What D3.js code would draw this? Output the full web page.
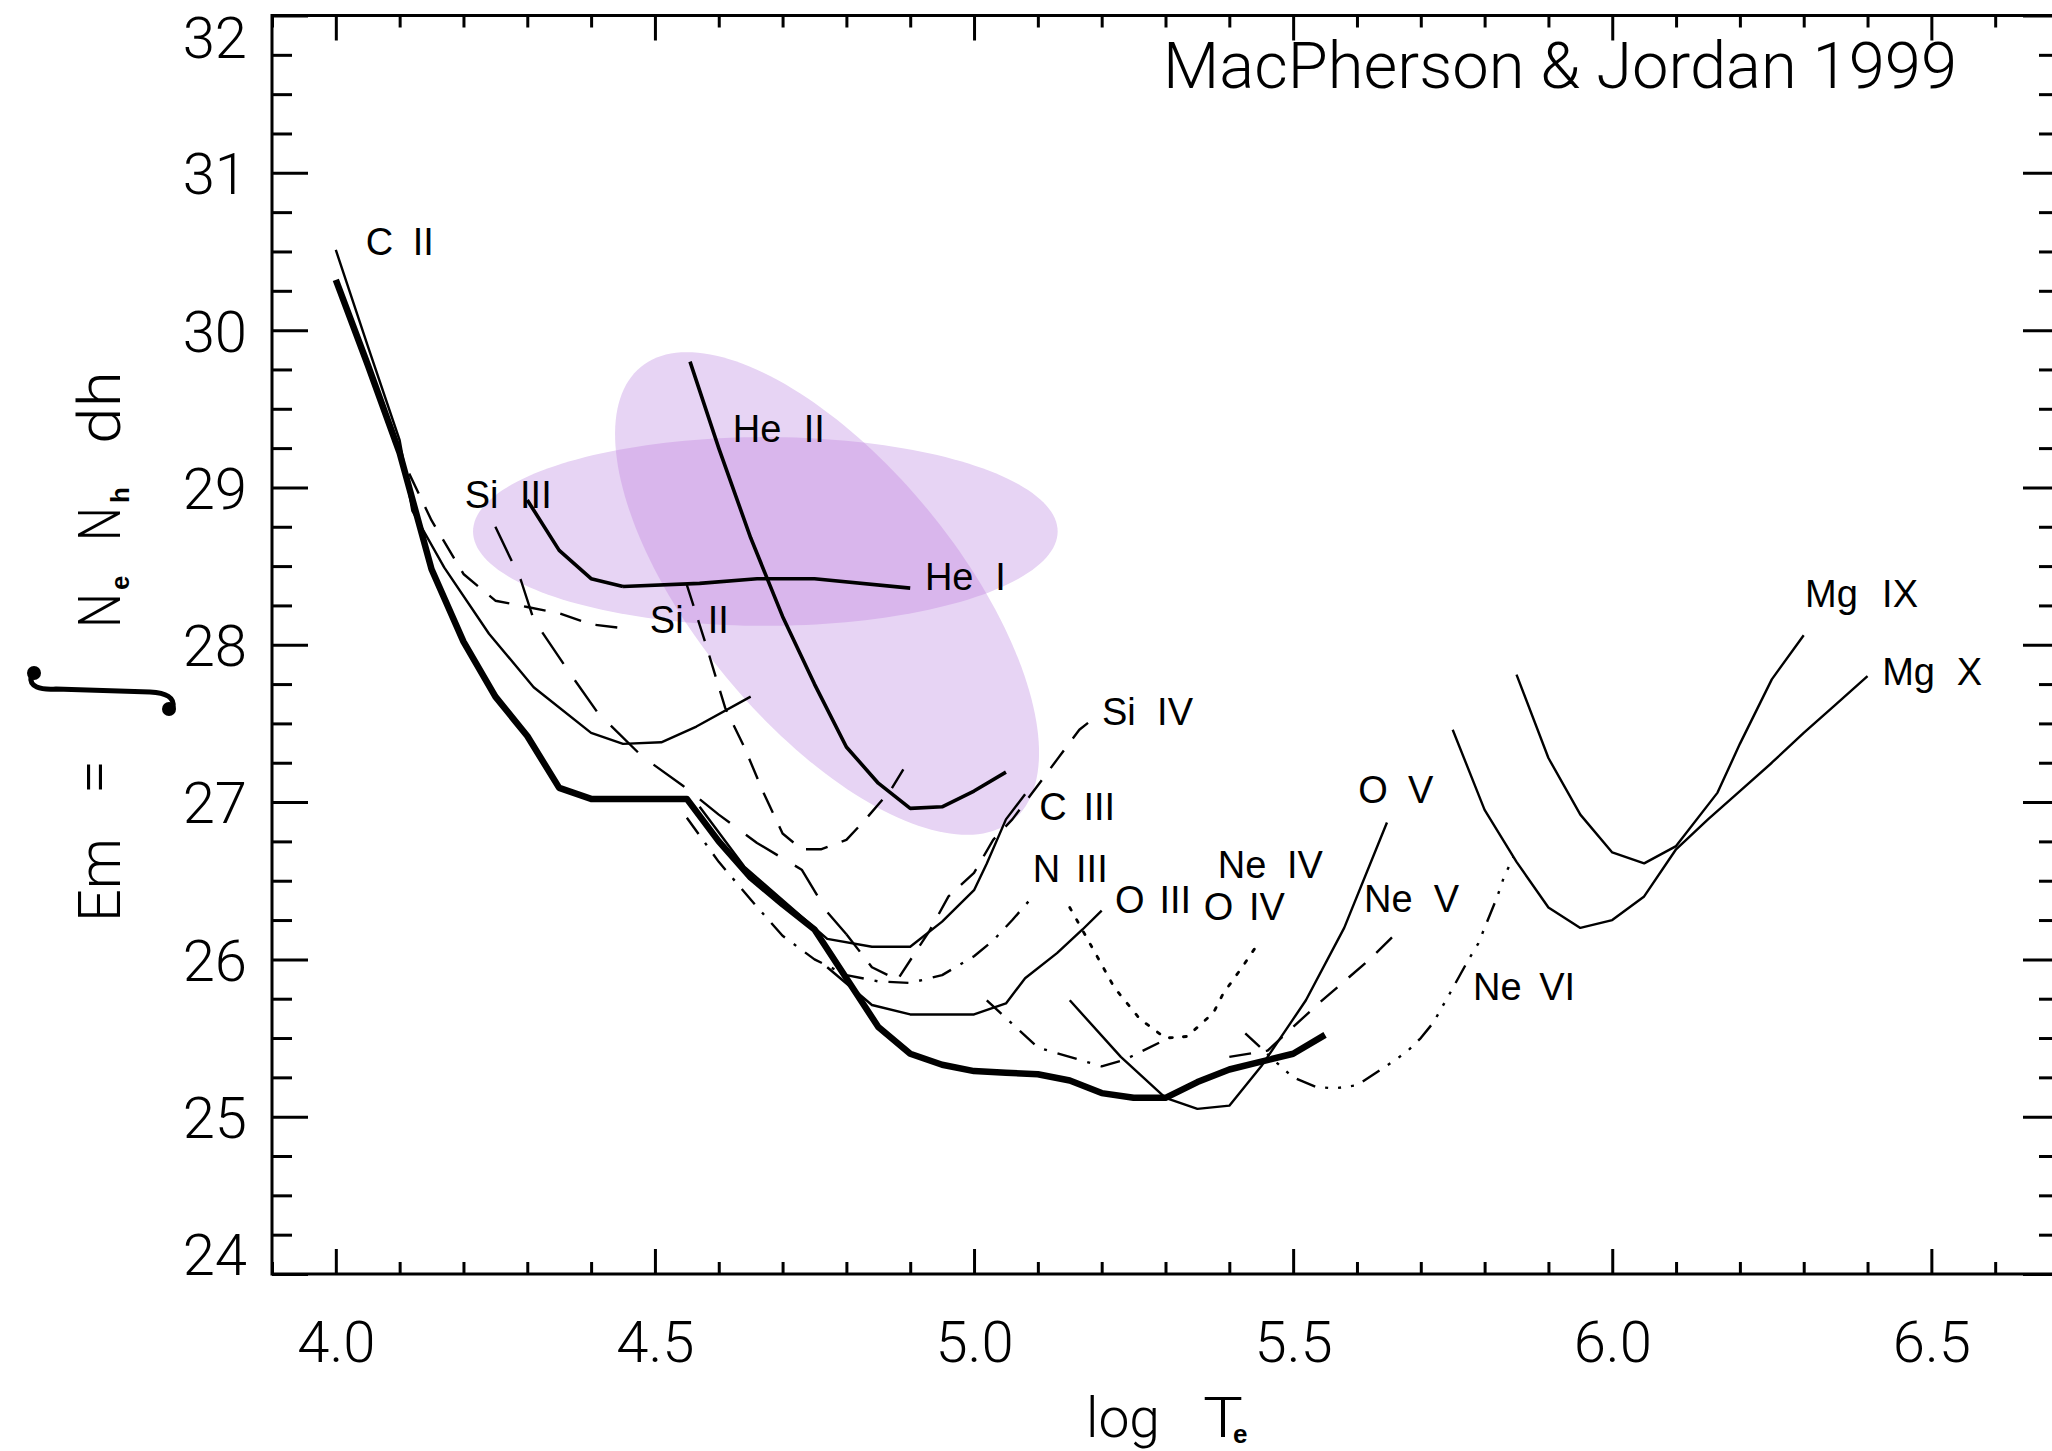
<!DOCTYPE html>
<html>
<head>
<meta charset="utf-8">
<script src="https://cdn.jsdelivr.net/npm/d3@7"></script>
<style>
  html, body { margin: 0; padding: 0; background: #ffffff; }
  svg { display: block; }
</style>
</head>
<body>
<svg id="chart" width="2052" height="1451"></svg>
<script>
// ---- axis set-up -------------------------------------------------------
const xDomain = [3.9, 6.7];
const yDomain = [24, 32];
const xMajorTicks = [4.0, 4.5, 5.0, 5.5, 6.0, 6.5];
const yMajorTicks = [24, 25, 26, 27, 28, 29, 30, 31, 32];

// ---- emission-measure loci (log Te, log Em) ----------------------------
const emTotal = [[4.00,30.32],[4.05,29.78],[4.10,29.22],[4.15,28.48],[4.20,28.02],[4.25,27.67],
  [4.30,27.42],[4.35,27.09],[4.40,27.02],[4.45,27.02],[4.50,27.02],[4.55,27.02],[4.60,26.75],
  [4.65,26.52],[4.70,26.35],[4.75,26.19],[4.80,25.88],[4.85,25.57],[4.90,25.40],[4.95,25.33],
  [5.00,25.29],[5.05,25.28],[5.10,25.27],[5.15,25.23],[5.20,25.15],[5.25,25.12],[5.30,25.12],
  [5.35,25.22],[5.40,25.30],[5.45,25.35],[5.50,25.40],[5.55,25.52]];
const cII = [[4.00,30.51],[4.05,29.90],[4.10,29.30],[4.12,28.85],[4.17,28.49],[4.24,28.07],
  [4.31,27.73],[4.40,27.44],[4.45,27.37],[4.51,27.38],[4.565,27.48],[4.65,27.67]];
const siII = [[4.09,29.30],[4.15,28.79],[4.20,28.45],[4.25,28.28],[4.30,28.24],[4.35,28.20],
  [4.40,28.13],[4.46,28.10]];
const siIII = [[4.30,28.92],[4.35,28.60],[4.40,28.42],[4.45,28.37]];
const heI = [[4.45,28.37],[4.57,28.39],[4.66,28.42],[4.75,28.42],[4.90,28.36]];
const heII = [[4.555,29.80],[4.60,29.25],[4.65,28.68],[4.70,28.18],[4.75,27.75],[4.80,27.35],
  [4.85,27.12],[4.90,26.96],[4.95,26.97],[5.00,27.07],[5.05,27.19]];
const siIVlow = [[4.25,28.75],[4.29,28.41],[4.31,28.16],[4.37,27.80],[4.41,27.57],[4.48,27.29],
  [4.545,27.10],[4.60,26.92],[4.66,26.74],[4.73,26.57],[4.77,26.30],[4.80,26.16]];
const siIIhigh = [[4.55,28.38],[4.58,28.00],[4.61,27.60],[4.64,27.35],[4.67,27.06],[4.70,26.80],
  [4.73,26.70],[4.76,26.70],[4.80,26.76],[4.83,26.89],[4.87,27.08],[4.90,27.28]];
const siIV = [[4.80,26.16],[4.84,25.95],[4.88,25.87],[4.93,26.18],[4.96,26.40],[5.00,26.55],
  [5.03,26.76],[5.06,26.89],[5.11,27.16],[5.13,27.27],[5.165,27.46],[5.19,27.54]];
const cIII = [[4.57,26.97],[4.64,26.59],[4.77,26.13],[4.84,26.08],[4.90,26.08],[4.95,26.24],
  [5.00,26.44],[5.02,26.61],[5.05,26.89],[5.08,27.05]];
const nIII = [[4.55,26.90],[4.60,26.62],[4.65,26.38],[4.70,26.15],[4.75,26.00],[4.80,25.90],
  [4.85,25.86],[4.90,25.85],[4.95,25.90],[5.00,26.02],[5.03,26.12],[5.06,26.25],[5.09,26.39]];
const oIII = [[4.77,25.95],[4.84,25.71],[4.90,25.65],[5.00,25.65],[5.05,25.72],[5.08,25.88],
  [5.13,26.04],[5.17,26.19],[5.20,26.31]];
const nIV = [[5.02,25.74],[5.10,25.44],[5.20,25.32],[5.235,25.36],[5.29,25.47]];
const oIV = [[5.15,26.33],[5.19,26.04],[5.22,25.82],[5.26,25.62],[5.30,25.50],[5.334,25.51],
  [5.375,25.66],[5.39,25.78],[5.42,25.95],[5.445,26.10]];
const oV = [[5.15,25.74],[5.23,25.38],[5.30,25.12],[5.35,25.05],[5.40,25.07],[5.45,25.32],
  [5.50,25.62],[5.52,25.74],[5.58,26.20],[5.647,26.87]];
const neV = [[5.40,25.38],[5.46,25.42],[5.50,25.57],[5.54,25.72],[5.58,25.86],[5.62,26.00],
  [5.66,26.16]];
const neVI = [[5.425,25.53],[5.475,25.34],[5.50,25.25],[5.535,25.19],[5.565,25.18],[5.60,25.20],
  [5.66,25.36],[5.68,25.42],[5.70,25.50],[5.72,25.60],[5.745,25.78],[5.775,26.00],[5.79,26.10],
  [5.80,26.20],[5.82,26.40],[5.83,26.52],[5.845,26.65]];
const mgIX = [[5.85,27.81],[5.90,27.28],[5.95,26.92],[6.00,26.68],[6.05,26.61],[6.10,26.72],
  [6.165,27.06],[6.20,27.37],[6.25,27.78],[6.30,28.06]];
const mgX = [[5.75,27.46],[5.80,26.95],[5.85,26.62],[5.90,26.33],[5.95,26.20],[6.00,26.25],
  [6.05,26.40],[6.10,26.70],[6.15,26.89],[6.20,27.07],[6.25,27.25],[6.30,27.44],[6.35,27.62],
  [6.40,27.80]];

// ion names written beside the loci: [element, stage, log Te, log Em]
const ionLabels = [
  ["C","II",4.047,30.478],["Si","III",4.202,28.869],["He","II",4.622,29.289],
  ["He","I",4.923,28.348],["Si","II",4.492,28.075],["Si","IV",5.2005,27.49],
  ["C","III",5.102,26.886],["N","III",5.092,26.49],["O","III",5.221,26.295],
  ["O","IV",5.36,26.25],["Ne","IV",5.382,26.518],["O","V",5.602,26.995],
  ["Ne","V",5.611,26.302],["Ne","VI",5.782,25.743],["Mg","IX",6.302,28.24],
  ["Mg","X",6.423,27.745]
];
const ionLabelWidths = [68,87,92,81,79,91,76,75,76,81,105,75,95,102,113,100];

// shaded regions: centre and the two semi-axis end points, in data units
const regionWide = { centre: [4.673, 28.72], axisA: [5.131, 28.72], axisB: [4.673, 29.32] };
const regionTilted = { centre: [4.7697, 28.326], axisA: [5.0615, 26.886], axisB: [4.611, 27.797] };

const titleText = "MacPherson & Jordan 1999";

// ---- drawing ------------------------------------------------------------
const svg = d3.select("#chart");
const plot = { left: 272, right: 2059, top: 15.5, bottom: 1274 };
const x = d3.scaleLinear().domain(xDomain).range([plot.left, plot.right]);
const y = d3.scaleLinear().domain(yDomain).range([plot.bottom, plot.top]);

const lightFont = "Roboto, 'Liberation Sans', Arial, sans-serif";
const labelFont = "'Liberation Sans', Arial, Helvetica, sans-serif";

// shaded regions
function regionPath(r) {
  const c = [x(r.centre[0]), y(r.centre[1])];
  const a = [x(r.axisA[0]) - c[0], y(r.axisA[1]) - c[1]];
  const b = [x(r.axisB[0]) - c[0], y(r.axisB[1]) - c[1]];
  const pts = d3.range(0, 360, 2).map(deg => {
    const t = deg * Math.PI / 180;
    return [c[0] + Math.cos(t) * a[0] + Math.sin(t) * b[0],
            c[1] + Math.cos(t) * a[1] + Math.sin(t) * b[1]];
  });
  return d3.line()(pts) + "Z";
}
const defs = svg.append("defs");
defs.append("clipPath").attr("id", "clipWide").append("path").attr("d", regionPath(regionWide));
const shade = svg.append("g");
shade.append("path").attr("d", regionPath(regionWide)).attr("fill", "#e7d4f4");
shade.append("path").attr("d", regionPath(regionTilted)).attr("fill", "#e7d4f4");
shade.append("path").attr("d", regionPath(regionTilted)).attr("fill", "#d9b6ec")
  .attr("clip-path", "url(#clipWide)");

// loci
const styles = {
  thick:   { w: 6.5, dash: null },
  medium:  { w: 3.6, dash: null },
  thin:    { w: 2.4, dash: null },
  dashed:  { w: 2.4, dash: "22,15" },
  longdash:{ w: 2.4, dash: "38,20" },
  dashdot: { w: 2.4, dash: "20,11,3,11" },
  dash3dot:{ w: 2.4, dash: "20,10,3,10,3,10,3,10" },
  dotted:  { w: 2.8, dash: "3,11" }
};
const loci = [
  [cII, "thin"], [siII, "dashed"], [siIII, "medium"], [heI, "medium"], [heII, "medium"],
  [siIVlow, "longdash"], [siIIhigh, "dashed"], [siIV, "dashed"], [cIII, "thin"],
  [nIII, "dashdot"], [oIII, "thin"], [nIV, "dashdot"], [oIV, "dotted"], [oV, "thin"],
  [neV, "dashed"], [neVI, "dash3dot"], [mgIX, "thin"], [mgX, "thin"], [emTotal, "thick"]
];
const line = d3.line().x(d => x(d[0])).y(d => y(d[1]));
const lociG = svg.append("g").attr("fill", "none").attr("stroke", "#000")
  .attr("stroke-linejoin", "round");
loci.forEach(([pts, key]) => {
  const s = styles[key];
  lociG.append("path").attr("d", line(pts)).attr("stroke-width", s.w)
    .attr("stroke-dasharray", s.dash)
    .attr("stroke-linecap", key === "dotted" ? "round" : "butt");
});

// ion labels
const labG = svg.append("g").attr("font-family", labelFont).attr("font-size", 38)
  .attr("fill", "#000");
ionLabels.forEach(([el, stage, lx, ly], i) => {
  const px = x(lx), py = y(ly), w = ionLabelWidths[i];
  labG.append("text").attr("x", px).attr("y", py).text(el);
  labG.append("text").attr("x", px + w).attr("y", py).attr("text-anchor", "end").text(stage);
});

// frame
svg.append("rect").attr("x", plot.left).attr("y", plot.top)
  .attr("width", plot.right - plot.left).attr("height", plot.bottom - plot.top)
  .attr("fill", "none").attr("stroke", "#000").attr("stroke-width", 3);

// ticks (pointing inward on all four sides)
const xMinor = d3.range(39, 68).map(v => v / 10).filter(v => !xMajorTicks.some(m => Math.abs(m - v) < 1e-6));
const yMinor = d3.range(96, 129).map(v => v / 4).filter(v => v % 1 !== 0);
function styleAxis(g) {
  g.select(".domain").remove();
  g.selectAll("line").attr("stroke", "#000").attr("stroke-width", 3);
}
svg.append("g").attr("transform", `translate(0,${plot.bottom})`)
  .call(d3.axisBottom(x).tickValues(xMinor).tickSize(-12).tickFormat("")).call(styleAxis);
svg.append("g").attr("transform", `translate(0,${plot.top})`)
  .call(d3.axisTop(x).tickValues(xMinor).tickSize(-12).tickFormat("")).call(styleAxis);
svg.append("g").attr("transform", `translate(0,${plot.top})`)
  .call(d3.axisTop(x).tickValues(xMajorTicks).tickSize(-25).tickFormat("")).call(styleAxis);
const xAx = svg.append("g").attr("transform", `translate(0,${plot.bottom})`)
  .call(d3.axisBottom(x).tickValues(xMajorTicks).tickSize(-25).tickPadding(47)
    .tickFormat(d3.format(".1f"))).call(styleAxis);
xAx.selectAll("text").attr("font-family", lightFont).attr("font-weight", 300)
  .attr("font-size", 58).attr("fill", "#000");

svg.append("g").attr("transform", `translate(${plot.left},0)`)
  .call(d3.axisLeft(y).tickValues(yMinor).tickSize(-20).tickFormat("")).call(styleAxis);
svg.append("g").attr("transform", `translate(${plot.right},0)`)
  .call(d3.axisRight(y).tickValues(yMinor).tickSize(-20).tickFormat("")).call(styleAxis);
svg.append("g").attr("transform", `translate(${plot.right},0)`)
  .call(d3.axisRight(y).tickValues(yMajorTicks).tickSize(-36).tickFormat("")).call(styleAxis);
const yAx = svg.append("g").attr("transform", `translate(${plot.left},0)`)
  .call(d3.axisLeft(y).tickValues(yMajorTicks).tickSize(-36).tickPadding(25)
    .tickFormat(d3.format("d"))).call(styleAxis);
yAx.selectAll("text").attr("font-family", lightFont).attr("font-weight", 300)
  .attr("font-size", 58).attr("fill", "#000")
  .attr("dy", d => d === 32 ? "0.72em" : d === 24 ? "0em" : "0.36em");

// title
svg.append("text").attr("x", 1957).attr("y", 88).attr("text-anchor", "end")
  .attr("font-family", lightFont).attr("font-weight", 300)
  .attr("font-size", 64).attr("textLength", 794).attr("lengthAdjust", "spacingAndGlyphs")
  .text(titleText);

// x-axis title: log Te
const xt = svg.append("g").attr("font-family", lightFont).attr("font-weight", 300)
  .attr("font-size", 56).attr("fill", "#000");
xt.append("text").attr("x", 1086).attr("y", 1437).attr("textLength", 74)
  .attr("lengthAdjust", "spacingAndGlyphs").text("log");
xt.append("text").attr("x", 1203).attr("y", 1437).attr("textLength", 40)
  .attr("lengthAdjust", "spacingAndGlyphs").text("T");
xt.append("text").attr("x", 1233).attr("y", 1443).attr("font-size", 26)
  .attr("font-weight", "bold").attr("font-family", labelFont).text("e");

// y-axis title: Em = ∫ Ne Nh dh (reads bottom to top)
const yt = svg.append("g").attr("transform", "translate(120,0) rotate(-90)")
  .attr("font-family", lightFont).attr("font-weight", 300).attr("font-size", 60).attr("fill", "#000");
yt.append("text").attr("x", -922).attr("y", 0).attr("textLength", 84)
  .attr("lengthAdjust", "spacingAndGlyphs").text("Em");
yt.append("text").attr("x", -794).attr("y", -6).attr("textLength", 34)
  .attr("lengthAdjust", "spacingAndGlyphs").text("=");
yt.append("text").attr("x", -628).attr("y", 0).attr("textLength", 35)
  .attr("lengthAdjust", "spacingAndGlyphs").text("N");
yt.append("text").attr("x", -590).attr("y", 9).attr("font-size", 26).attr("font-weight", "bold")
  .attr("font-family", labelFont).text("e");
yt.append("text").attr("x", -541).attr("y", 0).attr("textLength", 34)
  .attr("lengthAdjust", "spacingAndGlyphs").text("N");
yt.append("text").attr("x", -503).attr("y", 9).attr("font-size", 26).attr("font-weight", "bold")
  .attr("font-family", labelFont).text("h");
yt.append("text").attr("x", -444).attr("y", 0).attr("textLength", 73)
  .attr("lengthAdjust", "spacingAndGlyphs").text("dh");

// integral sign of the y-axis title, drawn as a stroke with ball terminals
const integral = svg.append("g").attr("fill", "#000");
integral.append("path").attr("fill", "none").attr("stroke", "#000").attr("stroke-width", 5)
  .attr("stroke-linecap", "round")
  .attr("d", "M31,676 C29,687 40,690 56,689 L150,692 C166,693 175,697 173,708");
integral.append("circle").attr("cx", 34).attr("cy", 673).attr("r", 7);
integral.append("circle").attr("cx", 169).attr("cy", 709).attr("r", 7);
</script>
</body>
</html>
